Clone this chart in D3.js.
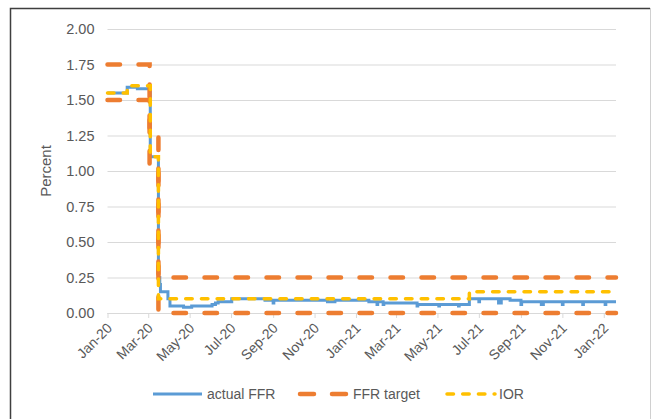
<!DOCTYPE html>
<html>
<head>
<meta charset="utf-8">
<script src="https://cdn.jsdelivr.net/npm/d3@7"></script>
<style>
  body { margin: 0; background: #fff; }
  text { font-family: "Liberation Sans", Arial, sans-serif; fill: #595959; }
</style>
</head>
<body>
<svg id="chart" width="653" height="419"></svg>
<script>
// tick labels on the date axis
const tickDates = ["2020-01-01", "2020-03-01", "2020-05-01", "2020-07-01", "2020-09-01", "2020-11-01",
  "2021-01-01", "2021-03-01", "2021-05-01", "2021-07-01", "2021-09-01", "2021-11-01", "2022-01-01"];
const tickLabels = ["Jan-20", "Mar-20", "May-20", "Jul-20", "Sep-20", "Nov-20",
  "Jan-21", "Mar-21", "May-21", "Jul-21", "Sep-21", "Nov-21", "Jan-22"];
const yTicks = [0, 0.25, 0.5, 0.75, 1, 1.25, 1.5, 1.75, 2];
const endDate = "2022-01-19";

// series, as [date, value] change points (step after)
const actualFFR = [
  ["2020-01-01", 1.55], ["2020-01-30", 1.59], ["2020-02-14", 1.58], ["2020-03-04", 1.10],
  ["2020-03-16", 0.25], ["2020-03-18", 0.20], ["2020-03-19", 0.15], ["2020-03-30", 0.10],
  ["2020-04-02", 0.05], ["2020-04-22", 0.04], ["2020-05-04", 0.05], ["2020-06-03", 0.06],
  ["2020-06-08", 0.07], ["2020-06-12", 0.08], ["2020-07-02", 0.10], ["2020-08-20", 0.09],
  ["2020-09-01", 0.07], ["2020-09-02", 0.09], ["2020-11-20", 0.08], ["2020-12-01", 0.09],
  ["2021-01-20", 0.08], ["2021-02-01", 0.06], ["2021-02-02", 0.08], ["2021-02-10", 0.06],
  ["2021-02-11", 0.07], ["2021-04-01", 0.05], ["2021-04-02", 0.06], ["2021-05-03", 0.05],
  ["2021-05-04", 0.06], ["2021-06-01", 0.05], ["2021-06-02", 0.06], ["2021-06-17", 0.10],
  ["2021-07-01", 0.08], ["2021-07-02", 0.10], ["2021-07-30", 0.07], ["2021-08-03", 0.10],
  ["2021-08-16", 0.09], ["2021-09-01", 0.06], ["2021-09-02", 0.08], ["2021-10-01", 0.06],
  ["2021-10-04", 0.08], ["2021-11-01", 0.06], ["2021-11-02", 0.08], ["2021-12-01", 0.06],
  ["2021-12-02", 0.08], ["2022-01-03", 0.06], ["2022-01-04", 0.08], ["2022-01-19", 0.08]
];
const targetUpper = [["2020-01-01", 1.75], ["2020-03-03", 1.25], ["2020-03-16", 0.25], ["2022-01-19", 0.25]];
const targetLower = [["2020-01-01", 1.50], ["2020-03-03", 1.00], ["2020-03-16", 0.00], ["2022-01-19", 0.00]];
const ior = [["2020-01-01", 1.55], ["2020-01-30", 1.60], ["2020-03-04", 1.10], ["2020-03-16", 0.10],
  ["2021-06-17", 0.15], ["2022-01-19", 0.15]];

const parse = d3.utcParse("%Y-%m-%d");
const svg = d3.select("#chart");

const plotLeft = 107.5, plotRight = 616, plotTop = 29, plotBottom = 313;
const x = d3.scaleUtc().domain([parse("2020-01-01"), parse(endDate)]).range([plotLeft, plotRight]);
const y = d3.scaleLinear().domain([0, 2]).range([plotBottom, plotTop]);

// frame
svg.append("path").attr("d", "M10.5,419 V8.5 H650").attr("fill", "none").attr("stroke", "#3f3f3f").attr("stroke-width", 1.5);
svg.append("line").attr("x1", 650.5).attr("x2", 650.5).attr("y1", 8).attr("y2", 419).attr("stroke", "#d0d0d0");

// gridlines + y labels
const yAxis = d3.axisLeft(y).tickValues(yTicks).tickSize(-(plotRight - plotLeft)).tickFormat(d3.format(".2f"));
const yg = svg.append("g").attr("transform", `translate(${plotLeft},0)`).call(yAxis);
yg.select(".domain").remove();
yg.selectAll(".tick line").attr("stroke", "#d9d9d9");
yg.selectAll(".tick text").attr("x", -13).attr("font-size", 14.5).attr("fill", "#595959");

// x axis
const xAxis = d3.axisBottom(x).tickValues(tickDates.map(parse)).tickSize(5)
  .tickFormat((d, i) => tickLabels[i]);
const xg = svg.append("g").attr("transform", `translate(0,${plotBottom})`).call(xAxis);
xg.select(".domain").attr("stroke", "#d9d9d9").attr("d", `M${plotLeft},0.5H${plotRight}`);
xg.selectAll(".tick line").attr("stroke", "#d9d9d9");
xg.selectAll(".tick text")
  .attr("font-size", 14).attr("fill", "#595959")
  .attr("text-anchor", "end").attr("y", 0).attr("dy", 0)
  .attr("transform", "translate(5,16) rotate(-45)");

svg.append("text").attr("transform", "translate(51,171) rotate(-90)")
  .attr("text-anchor", "middle").attr("font-size", 15).text("Percent");

// lines
const line = d3.line().curve(d3.curveStepAfter).x(d => x(parse(d[0]))).y(d => y(d[1]));

svg.append("path").datum(actualFFR).attr("d", line).attr("fill", "none")
  .attr("stroke", "#5b9bd5").attr("stroke-width", 3);
[targetUpper, targetLower].forEach(s => {
  svg.append("path").datum(s).attr("d", line).attr("fill", "none")
    .attr("stroke", "#ed7d31").attr("stroke-width", 4.5)
    .attr("stroke-linecap", "round").attr("stroke-dasharray", "12.5 18.5");
});
svg.append("path").datum(ior).attr("d", line).attr("fill", "none")
  .attr("stroke", "#ffc000").attr("stroke-width", 3.5)
  .attr("stroke-linecap", "round").attr("stroke-dasharray", "6.5 9.2");

// legend
const ly = 394;
const lg = svg.append("g");
lg.append("line").attr("x1", 153).attr("x2", 202).attr("y1", ly).attr("y2", ly)
  .attr("stroke", "#5b9bd5").attr("stroke-width", 3);
lg.append("line").attr("x1", 300).attr("x2", 348).attr("y1", ly).attr("y2", ly)
  .attr("stroke", "#ed7d31").attr("stroke-width", 4.5).attr("stroke-linecap", "round")
  .attr("stroke-dasharray", "14 18");
lg.append("line").attr("x1", 447).attr("x2", 495).attr("y1", ly).attr("y2", ly)
  .attr("stroke", "#ffc000").attr("stroke-width", 3.5).attr("stroke-linecap", "round")
  .attr("stroke-dasharray", "6.5 9.2");
[["actual FFR", 207], ["FFR target", 353], ["IOR", 499]].forEach(([t, tx]) => {
  lg.append("text").attr("x", tx).attr("y", ly + 5).attr("font-size", 14).text(t);
});
</script>
</body>
</html>
